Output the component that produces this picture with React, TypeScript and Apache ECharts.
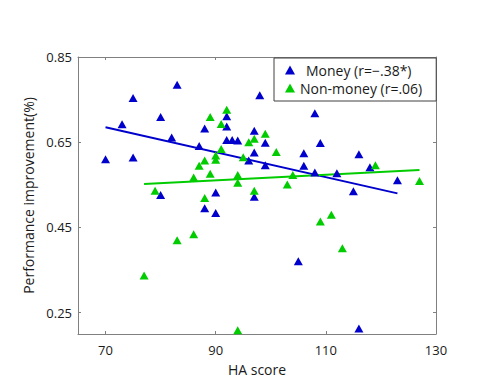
import React, { useEffect, useRef } from "react";
import * as echarts from "echarts";

const moneyName = "Money (r=\u2212.38*)";
const nonMoneyName = "Non-money (r=.06)";

const moneyX = [70, 73, 75, 75, 80, 80, 82, 83, 87, 88, 88, 90, 90, 92, 92, 92, 93, 94, 96, 97, 97, 97, 98, 99, 99, 105, 106, 106, 108, 108, 109, 112, 115, 116, 116, 118, 123];
const moneyY = [0.610, 0.692, 0.754, 0.614, 0.709, 0.526, 0.661, 0.785, 0.641, 0.682, 0.495, 0.532, 0.484, 0.711, 0.687, 0.655, 0.655, 0.654, 0.607, 0.677, 0.626, 0.522, 0.760, 0.649, 0.596, 0.371, 0.624, 0.595, 0.718, 0.579, 0.648, 0.577, 0.535, 0.622, 0.213, 0.591, 0.561];

const nonMoneyX = [77, 79, 83, 86, 86, 87, 88, 88, 89, 89, 90, 90, 91, 91, 92, 94, 94, 94, 95, 96, 97, 97, 99, 101, 103, 104, 109, 111, 113, 119, 127];
const nonMoneyY = [0.337, 0.536, 0.420, 0.567, 0.434, 0.595, 0.607, 0.519, 0.709, 0.576, 0.619, 0.609, 0.693, 0.634, 0.726, 0.209, 0.573, 0.555, 0.615, 0.650, 0.658, 0.536, 0.670, 0.627, 0.551, 0.573, 0.464, 0.480, 0.401, 0.596, 0.559];

const moneyFitX = [70, 123];
const moneyFitY = [0.685, 0.530];
const nonMoneyFitX = [77, 127];
const nonMoneyFitY = [0.552, 0.585];

const xTicks = [70, 90, 110, 130];
const yTicks = [0.25, 0.45, 0.65, 0.85];

const BLUE = "#0000cc";
const GREEN = "#00cc00";
const AXIS = "#808080";
const TEXT = "#1a1a1a";
const FONT = "Open Sans";

const zip = (xs: number[], ys: number[]) => xs.map((x, i) => [x, ys[i]]);

export default function App() {
  const ref = useRef<HTMLDivElement>(null);
  useEffect(() => {
    if (!ref.current) return;
    const chart = echarts.init(ref.current, null, { renderer: "svg" });
    const axisCommon = {
      axisLine: { show: true, lineStyle: { color: AXIS, width: 1 } },
      splitLine: { show: false },
    };
    chart.setOption({
      animation: false,
      backgroundColor: "#ffffff",
      grid: { left: 78, right: 64, top: 57, bottom: 55, containLabel: false },
      legend: {
        data: [moneyName, nonMoneyName],
        orient: "vertical",
        left: 274,
        top: 58,
        itemWidth: 10,
        itemHeight: 9,
        itemGap: 4,
        icon: "triangle",
        padding: [5, 14, 6, 11],
        backgroundColor: "#ffffff",
        borderColor: "#404040",
        borderWidth: 1,
        borderRadius: 0,
        textStyle: {
          fontFamily: FONT,
          fontSize: 14,
          color: TEXT,
          rich: { m: { fontFamily: FONT, fontSize: 14, color: TEXT, padding: [0, 0, 0, 6] } },
        },
        formatter: (name: string) => (name === moneyName ? "{m|" + name + "}" : name),
      },
      xAxis: [
        {
          type: "value",
          position: "bottom",
          min: 65,
          max: 130,
          ...axisCommon,
          name: "HA score",
          nameLocation: "middle",
          nameGap: 28,
          nameTextStyle: { fontFamily: FONT, fontSize: 14, color: TEXT },
          axisTick: { show: true, inside: true, length: 3, lineStyle: { color: AXIS }, customValues: xTicks },
          axisLabel: { show: true, margin: 9, fontFamily: FONT, fontSize: 13, color: TEXT, customValues: xTicks },
        },
        {
          type: "value",
          position: "top",
          min: 65,
          max: 130,
          ...axisCommon,
          axisTick: { show: true, inside: true, length: 3, lineStyle: { color: AXIS }, customValues: xTicks },
          axisLabel: { show: false },
        },
      ],
      yAxis: [
        {
          type: "value",
          position: "left",
          min: 0.2,
          max: 0.85,
          ...axisCommon,
          name: "Performance improvement(%)",
          nameLocation: "middle",
          nameGap: 40,
          nameTextStyle: { fontFamily: FONT, fontSize: 14, color: TEXT },
          axisTick: { show: true, inside: true, length: 3, lineStyle: { color: AXIS }, customValues: yTicks },
          axisLabel: {
            show: true,
            margin: 6,
            fontFamily: FONT,
            fontSize: 13,
            color: TEXT,
            customValues: yTicks,
            formatter: (v: number) => v.toFixed(2),
          },
        },
        {
          type: "value",
          position: "right",
          min: 0.2,
          max: 0.85,
          ...axisCommon,
          axisTick: { show: true, inside: true, length: 3, lineStyle: { color: AXIS }, customValues: yTicks },
          axisLabel: { show: false },
        },
      ],
      series: [
        {
          name: "moneyFit",
          type: "line",
          data: zip(moneyFitX, moneyFitY),
          showSymbol: false,
          lineStyle: { color: BLUE, width: 2 },
          z: 1,
          silent: true,
        },
        {
          name: "nonMoneyFit",
          type: "line",
          data: zip(nonMoneyFitX, nonMoneyFitY),
          showSymbol: false,
          lineStyle: { color: GREEN, width: 2 },
          z: 1,
          silent: true,
        },
        {
          name: moneyName,
          type: "scatter",
          data: zip(moneyX, moneyY),
          symbol: "triangle",
          symbolSize: [9, 8],
          itemStyle: { color: BLUE, opacity: 1 },
          z: 3,
        },
        {
          name: nonMoneyName,
          type: "scatter",
          data: zip(nonMoneyX, nonMoneyY),
          symbol: "triangle",
          symbolSize: [9, 8],
          itemStyle: { color: GREEN, opacity: 1 },
          z: 4,
        },
      ],
    });
    return () => chart.dispose();
  }, []);
  return (
    <div
      ref={ref}
      style={{ position: "fixed", left: 0, top: 0, width: 500, height: 389, background: "#fff" }}
    />
  );
}
